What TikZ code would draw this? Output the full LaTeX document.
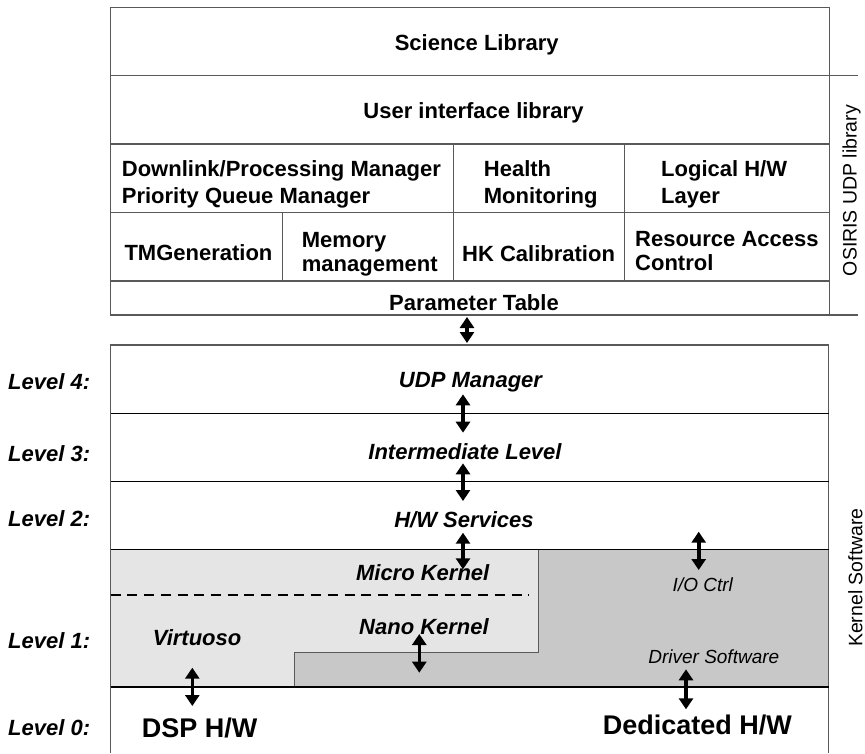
\documentclass[tikz,border=0pt]{standalone}
\usepackage{fontspec}
\setmainfont{Liberation Sans}
\usetikzlibrary{arrows.meta}
\definecolor{lightfill}{gray}{0.9}
\definecolor{darkfill}{gray}{0.785}
\definecolor{boxline}{gray}{0.35}
\begin{document}
\begin{tikzpicture}[x=1pt,y=-1pt,
  lbl/.style={inner sep=0pt, font=\fontsize{22}{26}\selectfont\bfseries},
  lvl/.style={inner sep=0pt, font=\fontsize{22}{26}\selectfont\bfseries\itshape},
  hwtxt/.style={inner sep=0pt, font=\fontsize{27}{32}\selectfont\bfseries},
  sml/.style={inner sep=0pt, font=\fontsize{19}{23}\selectfont\itshape},
  side/.style={inner sep=0pt, font=\fontsize{19.5}{23}\selectfont, rotate=90, anchor=base},
  grid/.style={draw=boxline, line width=1.1pt},
  hline/.style={draw=black, line width=1.1pt},
  thickline/.style={draw=black, line width=1.5pt},
  dbl/.style={{Triangle[width=14pt,length=11pt]}-{Triangle[width=14pt,length=11pt]}, line width=3.6pt}
]
\useasboundingbox (0,0) rectangle (865,753);

% ---------- OSIRIS UDP library (top box) ----------
\draw[grid] (110.7,7.3) rectangle (829.7,315);
\draw[grid] (110.7,75.7) -- (829.7,75.7);
\draw[grid] (110.7,144) -- (829.7,144);
\draw[grid] (110.7,212.3) -- (829.7,212.3);
\draw[grid] (110.7,281) -- (829.7,281);
\draw[grid] (453.7,144) -- (453.7,281);
\draw[grid] (624.7,144) -- (624.7,281);
\draw[grid] (282.3,212.3) -- (282.3,281);
% side bracket
\draw[grid] (829.7,75.7) -- (858,75.7);
\draw[grid] (829.7,315) -- (858,315);

\node[lbl, anchor=base] (sci) at (476.7,50) {Science Library};
\node[lbl, anchor=base] (ui) at (473.5,118) {User interface library};
\node[lbl, anchor=base west] (dl1) at (121.7,176.7) {Downlink/Processing Manager};
\node[lbl, anchor=base west] (dl2) at (121.7,203.3) {Priority Queue Manager};
\node[lbl, anchor=base west] (hm1) at (483.7,176.7) {Health};
\node[lbl, anchor=base west] (hm2) at (483.7,203.3) {Monitoring};
\node[lbl, anchor=base west] (lh1) at (661,176.7) {Logical H/W};
\node[lbl, anchor=base west] (lh2) at (661,203.3) {Layer};
\node[lbl, anchor=base west] (tm) at (124.3,260) {TMGeneration};
\node[lbl, anchor=base west] (mm1) at (301.7,247) {Memory};
\node[lbl, anchor=base west] (mm2) at (301.7,271.5) {management};
\node[lbl, anchor=base west] (hk) at (462,261) {HK Calibration};
\node[lbl, anchor=base west] (ra1) at (635,246) {Resource Access};
\node[lbl, anchor=base west] (ra2) at (635,270.3) {Control};
\node[lbl, anchor=base] (pt) at (474,310) {Parameter Table};
\node[side] (osiris) at (856.5,190.5) {OSIRIS UDP library};

% ---------- Kernel software (bottom box) ----------
\fill[lightfill] (110.7,549.7) rectangle (538.7,687);
\fill[darkfill] (538.7,549.7) -- (828.7,549.7) -- (828.7,687) -- (294,687)
  -- (294,652.7) -- (538.7,652.7) -- cycle;
\draw[draw=boxline, line width=1pt] (294,687) -- (294,652.7) -- (538.7,652.7) -- (538.7,549.7);
\draw[grid] (110.7,753) -- (110.7,345) -- (828.7,345) -- (828.7,753);
\draw[hline] (110.7,413.3) -- (828.7,413.3);
\draw[hline] (110.7,481.7) -- (828.7,481.7);
\draw[thickline] (110.7,549.7) -- (828.7,549.7);
\draw[thickline] (110.7,687) -- (828.7,687);
\draw[black, line width=2.6pt, dash pattern=on 10pt off 6.7pt] (110.7,595) -- (528.7,595);

\node[lvl, anchor=base west] (l4) at (8,389) {Level 4:};
\node[lvl, anchor=base west] (l3) at (8,461) {Level 3:};
\node[lvl, anchor=base west] (l2) at (8,526) {Level 2:};
\node[lvl, anchor=base west] (l1) at (8,648.7) {Level 1:};
\node[lvl, anchor=base west] (l0) at (8,735) {Level 0:};

\node[lvl, anchor=base] (udp) at (470.5,387) {UDP Manager};
\node[lvl, anchor=base] (inter) at (465,459.3) {Intermediate Level};
\node[lvl, anchor=base] (hws) at (464,527.7) {H/W Services};
\node[lvl, anchor=base] (micro) at (422.7,580) {Micro Kernel};
\node[lvl, anchor=base] (nano) at (424,634.3) {Nano Kernel};
\node[lvl, anchor=base west] (virt) at (152.7,645.3) {Virtuoso};
\node[sml, anchor=base] (io) at (702.8,591) {I/O Ctrl};
\node[sml, anchor=base] (drv) at (713.8,663.3) {Driver Software};
\node[hwtxt, anchor=base west] (dsp) at (141.7,737.6) {DSP H/W};
\node[hwtxt, anchor=base west] (ded) at (602.7,734.3) {Dedicated H/W};
\node[side] (kern) at (862.3,577.5) {Kernel Software};

% ---------- arrows ----------
\coordinate (a1s) at (467,317);   \coordinate (a1e) at (467,343);
\coordinate (a2s) at (463,394.3); \coordinate (a2e) at (463,432.7);
\coordinate (a3s) at (463,463.3); \coordinate (a3e) at (463,501);
\coordinate (a4s) at (463,532.7); \coordinate (a4e) at (463,569.3);
\coordinate (a5s) at (698.7,531.7); \coordinate (a5e) at (698.7,570);
\coordinate (a6s) at (419.3,634); \coordinate (a6e) at (419.3,672.7);
\coordinate (a7s) at (192.3,667.7); \coordinate (a7e) at (192.3,706);
\coordinate (a8s) at (686,669.3); \coordinate (a8e) at (686,709.3);
\foreach \i in {1,...,8} {\draw[dbl] (a\i s) -- (a\i e);}
\end{tikzpicture}
\end{document}
